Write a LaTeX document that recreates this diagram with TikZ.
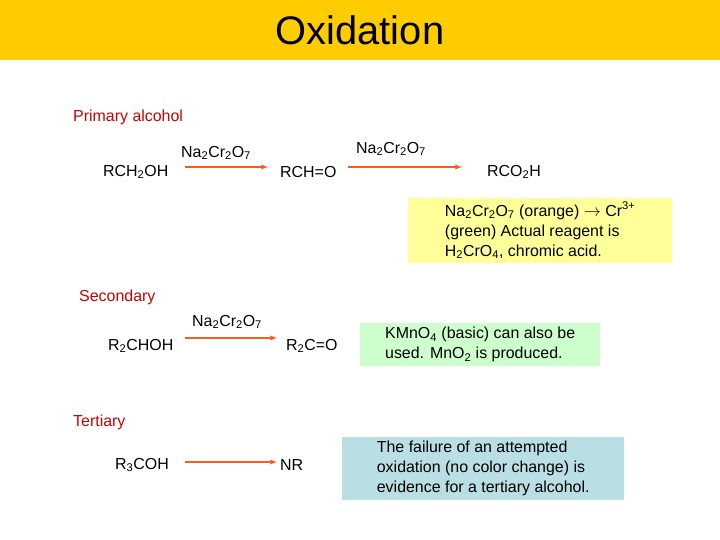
\documentclass[tikz,border=0pt]{standalone}
\usepackage{fontspec}
\setmainfont{Liberation Sans}
\definecolor{titley}{HTML}{FFCC00}
\definecolor{lab}{HTML}{CC0000}
\definecolor{arr}{HTML}{FF5A1E}
\definecolor{boxy}{HTML}{FFFF99}
\definecolor{boxg}{HTML}{CCFFCC}
\definecolor{boxb}{HTML}{B9DFE4}
\begin{document}
\begin{tikzpicture}[x=1bp,y=-1bp,
  txt/.style={font=\fontsize{16}{20}\selectfont,inner sep=0pt},
  lbl/.style={txt,text=lab,anchor=west},
  rx/.style={txt,anchor=west},
  rxn/.style={draw=arr,line width=1.3pt,-latex},
  note/.style={txt,anchor=north west,align=left,inner xsep=6pt,inner ysep=4pt,minimum width=#1}]
\useasboundingbox (0,0) rectangle (720,540);
\fill[titley] (0,0) rectangle (720,60);
\node[inner sep=0pt,font=\fontsize{40}{46}\selectfont] (title) at (360,30) {Oxidation};

\node[lbl] (prim) at (73,117) {Primary alcohol};
\node[rx] (a1) at (103,172) {RCH\textsubscript{2}OH};
\node[rx] (r1) at (181,153) {Na\textsubscript{2}Cr\textsubscript{2}O\textsubscript{7}};
\coordinate (p1s) at (185,167); \coordinate (p1e) at (268,167);
\draw[rxn] (p1s) -- (p1e);
\node[rx] (a2) at (280,172) {RCH=O};
\node[rx] (r2) at (356,149) {Na\textsubscript{2}Cr\textsubscript{2}O\textsubscript{7}};
\coordinate (p2s) at (348,167); \coordinate (p2e) at (462,167);
\draw[rxn] (p2s) -- (p2e);
\node[rx] (a3) at (487,172) {RCO\textsubscript{2}H};
\node[note=264bp,fill=boxy] (ny) at (408,198) {Na\textsubscript{2}Cr\textsubscript{2}O\textsubscript{7} (orange) $\rightarrow$ Cr\textsuperscript{3+}\\(green) Actual reagent is\\H\textsubscript{2}CrO\textsubscript{4}, chromic acid.};

\node[lbl] (sec) at (79,297) {Secondary};
\node[rx] (r3) at (192,322) {Na\textsubscript{2}Cr\textsubscript{2}O\textsubscript{7}};
\node[rx] (b1) at (108,346) {R\textsubscript{2}CHOH};
\coordinate (p3s) at (185,338); \coordinate (p3e) at (277,338);
\draw[rxn] (p3s) -- (p3e);
\node[rx] (b2) at (286,346) {R\textsubscript{2}C=O};
\node[note=240bp,fill=boxg] (ng) at (360,323) {KMnO\textsubscript{4} (basic) can also be\\used. MnO\textsubscript{2} is produced.};

\node[lbl] (ter) at (73,422) {Tertiary};
\node[rx] (c1) at (115,465) {R\textsubscript{3}COH};
\coordinate (p4s) at (185,462); \coordinate (p4e) at (277,462);
\draw[rxn] (p4s) -- (p4e);
\node[rx] (c2) at (280,465) {NR};
\node[note=282bp,fill=boxb] (nb) at (342,437) {The failure of an attempted\\oxidation (no color change) is\\evidence for a tertiary alcohol.};
\end{tikzpicture}
\end{document}
